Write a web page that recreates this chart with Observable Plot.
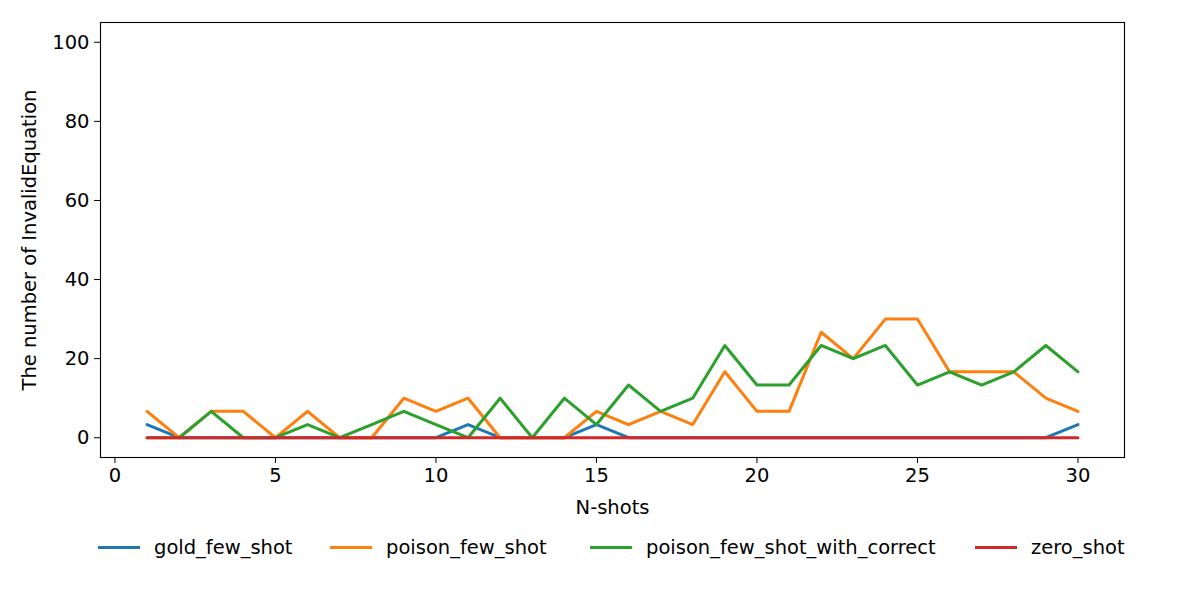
<!DOCTYPE html>
<html>
<head>
<meta charset="utf-8">
<script src="https://cdn.jsdelivr.net/npm/d3@7"></script>
<script src="https://cdn.jsdelivr.net/npm/@observablehq/plot@0.6"></script>
<style>
  html, body { margin: 0; padding: 0; background: #fff; }
  body { width: 1200px; height: 593px; overflow: hidden; font-family: "DejaVu Sans", sans-serif; }
  #legend { position: relative; height: 60px; font-size: 19.5px; color: #000; }
  .item { position: absolute; top: 11px; display: flex; align-items: center; white-space: nowrap; }
  .swatch { width: 42px; height: 3px; margin-right: 14px; }
</style>
</head>
<body>
<div id="chart"></div>
<div id="legend"></div>
<script>
const shots = [1,2,3,4,5,6,7,8,9,10,11,12,13,14,15,16,17,18,19,20,21,22,23,24,25,26,27,28,29,30];
const seriesNames = ["gold_few_shot", "poison_few_shot", "poison_few_shot_with_correct", "zero_shot"];
const seriesColors = ["#1f77b4", "#ff7f0e", "#2ca02c", "#d62728"];
const goldFewShot = [3.33,0,0,0,0,0,0,0,0,0,3.33,0,0,0,3.33,0,0,0,0,0,0,0,0,0,0,0,0,0,0,3.33];
const poisonFewShot = [6.67,0,6.67,6.67,0,6.67,0,0,10,6.67,10,0,0,0,6.67,3.33,6.67,3.33,16.67,6.67,6.67,26.67,20,30,30,16.67,16.67,16.67,10,6.67];
const poisonFewShotWithCorrect = [0,0,6.67,0,0,3.33,0,3.33,6.67,3.33,0,10,0,10,3.33,13.33,6.67,10,23.33,13.33,13.33,23.33,20,23.33,13.33,16.67,13.33,16.67,23.33,16.67];
const zeroShot = [0,0,0,0,0,0,0,0,0,0,0,0,0,0,0,0,0,0,0,0,0,0,0,0,0,0,0,0,0,0];
const xTicks = [0,5,10,15,20,25,30];
const yTicks = [0,20,40,60,80,100];

const allSeries = [goldFewShot, poisonFewShot, poisonFewShotWithCorrect, zeroShot];
const data = allSeries.flatMap((vals, i) => shots.map((s, j) => ({shot: s, value: vals[j], series: seriesNames[i]})));

const font = "DejaVu Sans, sans-serif";
const chart = Plot.plot({
  width: 1200,
  height: 525,
  marginTop: 22,
  marginBottom: 68,
  marginLeft: 100,
  marginRight: 76,
  style: {fontFamily: font, fontSize: "19.5px", color: "#000", background: "#fff"},
  x: {domain: [-0.45, 31.45]},
  y: {domain: [-5, 105]},
  color: {domain: seriesNames, range: seriesColors},
  marks: [
    Plot.line(data, {x: "shot", y: "value", z: "series", stroke: "series", strokeWidth: 3}),
    Plot.frame({stroke: "#000", strokeWidth: 1.1}),
    Plot.axisX({ticks: xTicks, tickSize: 6, tickPadding: 5, fontSize: 19.5, label: "N-shots", labelAnchor: "center", labelArrow: "none", labelOffset: 56}),
    Plot.axisY({ticks: yTicks, tickSize: 6, tickPadding: 5, fontSize: 19.5, label: "The number of InvalidEquation", labelAnchor: "center", labelArrow: "none", labelOffset: 78})
  ]
});
document.getElementById("chart").appendChild(chart);

const legend = document.getElementById("legend");
const lineStarts = [98, 330, 590, 975];
seriesNames.forEach((name, i) => {
  const item = document.createElement("div");
  item.className = "item";
  item.style.left = lineStarts[i] + "px";
  const sw = document.createElement("span");
  sw.className = "swatch";
  sw.style.background = seriesColors[i];
  const t = document.createElement("span");
  t.textContent = name;
  item.appendChild(sw);
  item.appendChild(t);
  legend.appendChild(item);
});
</script>
</body>
</html>
